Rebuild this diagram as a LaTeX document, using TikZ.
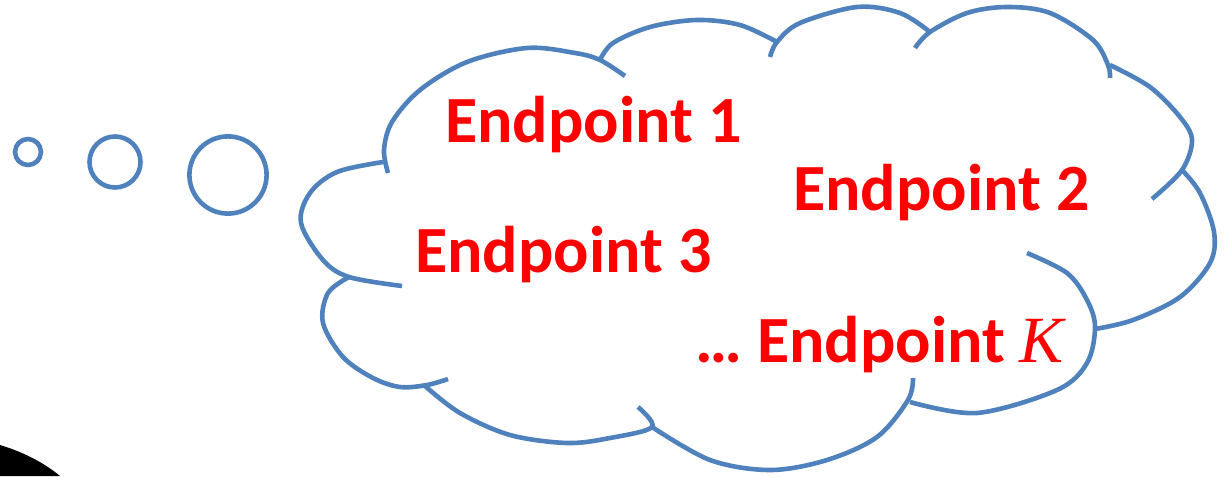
\documentclass[tikz,border=0pt]{standalone}
\usepackage{fontspec}
\setmainfont{Carlito}
\newfontfamily\kfont{Liberation Serif}
\usetikzlibrary{positioning}
\definecolor{cloudBlue}{RGB}{79,129,189}
\definecolor{pointRed}{RGB}{255,0,0}
\tikzset{
    lobe/.style={
        draw=cloudBlue,
        line width=4.6pt,
        smooth,
        tension=0.55
    },
    bubble/.style={
        draw=cloudBlue,
        line width=4.6pt
    },
    pointlabel/.style={
        anchor=base west,
        inner sep=0pt,
        text=pointRed,
        font=\fontsize{66}{70}\selectfont\bfseries
    }
}
\begin{document}
\begin{tikzpicture}[x=1pt,y=-1pt]
        \useasboundingbox (0,0) rectangle (1230,476);

        % dark corner at the bottom left
        \fill[black] (0,445) .. controls (20,451) and (42,461) .. (60,476) -- (0,476) -- cycle;

        % small bubbles leading to the cloud
        \foreach \cx/\cy/\r in {28/152/13,115/162/25.5,228/175/38.6} {
            \draw[bubble] (\cx,\cy) circle[radius=\r];
        }

        % cloud outline, one lobe at a time
        \draw[lobe] plot coordinates {(388,173) (384,150) (392,122) (420,90) (467,62) (527,48) (575,53) (600,60) (625,76)};
        \draw[lobe] plot coordinates {(600,60) (613,43) (650,27) (697,20) (740,25) (777,42)};
        \draw[lobe] plot coordinates {(770,57) (777,42) (800,23) (857,7) (900,13) (930,32)};
        \draw[lobe] plot coordinates {(915,48) (930,32) (967,13) (1007,7) (1050,13) (1093,40) (1108,65) (1110,78)};
        \draw[lobe] plot coordinates {(1110,65) (1150,87) (1180,117) (1192,140) (1182,170) (1152,199)};
        \draw[lobe] plot coordinates {(1182,170) (1200,193) (1214,232) (1210,263) (1180,297) (1133,320) (1095,329)};
        \draw[lobe] plot coordinates {(1027,253) (1067,273) (1087,300) (1095,327) (1087,363) (1057,390) (977,413) (910,402)};
        \draw[lobe] plot coordinates {(913,378) (908,400) (877,437) (827,460) (770,470) (710,460) (652,427)};
        \draw[lobe] plot coordinates {(638,407) (652,427) (610,438) (567,443) (510,435) (460,413) (425,386)};
        \draw[lobe] plot coordinates {(448,379) (427,385) (400,387) (373,378) (343,357) (323,323) (328,293) (349,277)};
        \draw[lobe] plot coordinates {(402,286) (349,277) (323,260) (301,223) (310,193) (337,172) (383,162)};

        \node[pointlabel] (ep1) at (445,142) {Endpoint 1};
        \node[pointlabel] (ep2) at (793,210) {Endpoint 2};
        \node[pointlabel] (ep3) at (415,272) {Endpoint 3};
        \node[pointlabel] (epK) at (695,362) {\dots\ Endpoint {\kfont\mdseries\itshape K}};
    \end{tikzpicture}
\end{document}
